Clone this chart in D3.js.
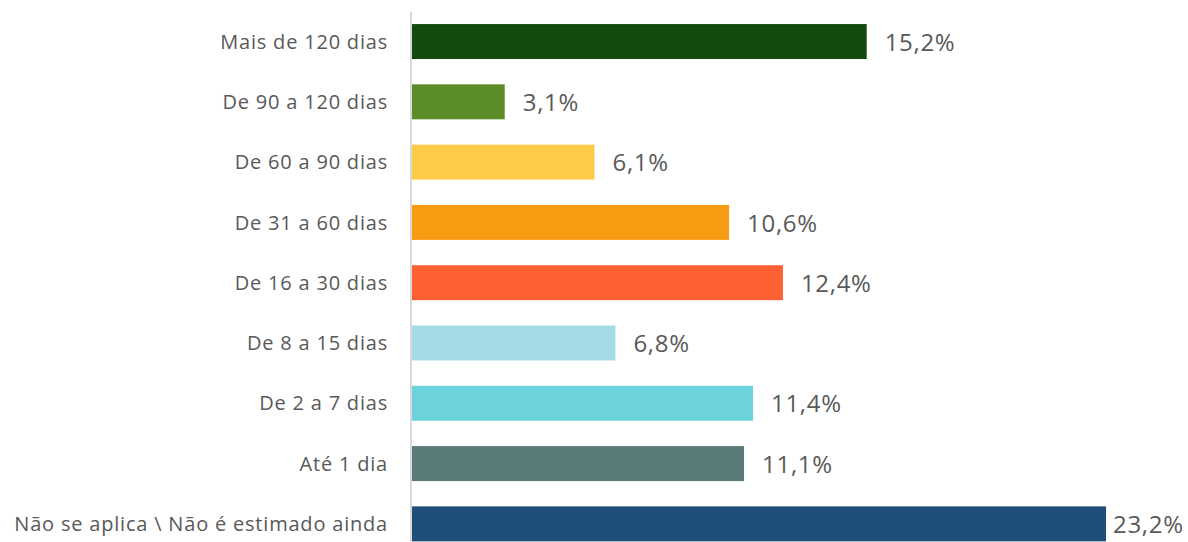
<!DOCTYPE html>
<html>
<head>
<meta charset="utf-8">
<script src="https://cdn.jsdelivr.net/npm/d3@7"></script>
<style>
  html, body { margin: 0; padding: 0; background: #fff; }
  svg { display: block; }
</style>
</head>
<body>
<svg id="chart" width="1188" height="542"></svg>
<script>
// Tempo estimado — distribuição percentual por faixa
const categories = [
  "Mais de 120 dias",
  "De 90 a 120 dias",
  "De 60 a 90 dias",
  "De 31 a 60 dias",
  "De 16 a 30 dias",
  "De 8 a 15 dias",
  "De 2 a 7 dias",
  "Até 1 dia",
  "Não se aplica \\ Não é estimado ainda"
];
const values = [15.2, 3.1, 6.1, 10.6, 12.4, 6.8, 11.4, 11.1, 23.2];
const colors = [
  "#134a0e", "#5b8c27", "#fdcb47", "#f89b12", "#fe5f33",
  "#a5dbe5", "#6cd3dc", "#5b7b7a", "#1f4e78"
];

const svg = d3.select("#chart");
const axisX = 411;

const x = d3.scaleLinear()
  .domain([0, 23.2])
  .range([axisX + 1, 1106]);

const y = d3.scaleBand()
  .domain(categories)
  .range([11.4, 554])
  .paddingInner(0.42)
  .paddingOuter(0.21);

const fmt = v => d3.format(".1f")(v).replace(".", ",") + "%";

// vertical category axis line
svg.append("line")
  .attr("x1", axisX).attr("x2", axisX)
  .attr("y1", 12).attr("y2", 542)
  .attr("stroke", "#d9d9d9")
  .attr("stroke-width", 2);

// bars
svg.selectAll("rect.bar")
  .data(values)
  .join("rect")
  .attr("class", "bar")
  .attr("x", x(0))
  .attr("y", (d, i) => y(categories[i]))
  .attr("width", d => x(d) - x(0))
  .attr("height", y.bandwidth())
  .attr("fill", (d, i) => colors[i]);

// category labels
svg.selectAll("text.cat")
  .data(categories)
  .join("text")
  .attr("class", "cat")
  .attr("x", axisX - 23)
  .attr("y", d => y(d) + y.bandwidth() / 2)
  .attr("dy", "0.36em")
  .attr("text-anchor", "end")
  .attr("font-family", "'Open Sans', sans-serif")
  .attr("font-size", 20)
  .attr("letter-spacing", "0.8px")
  .attr("fill", "#595959")
  .text(d => d);

// value labels (the widest one is kept inside the frame)
svg.selectAll("text.val")
  .data(values)
  .join("text")
  .attr("class", "val")
  .attr("x", d => Math.min(x(d) + 18, 1113))
  .attr("y", (d, i) => y(categories[i]) + y.bandwidth() / 2)
  .attr("dy", "0.38em")
  .attr("font-family", "'Open Sans', sans-serif")
  .attr("font-size", 24)
  .attr("letter-spacing", "0.7px")
  .attr("fill", "#595959")
  .text(d => fmt(d));
</script>
</body>
</html>
